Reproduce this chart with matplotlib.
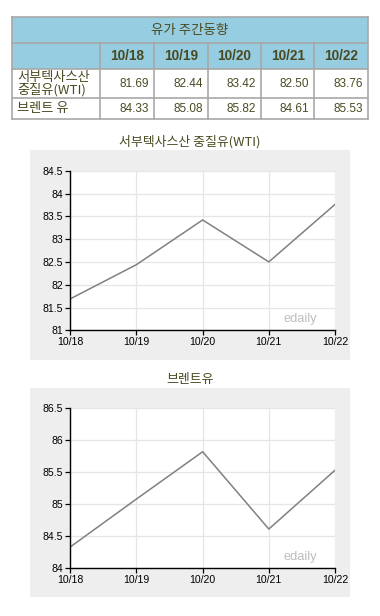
import matplotlib
matplotlib.use("Agg")
import matplotlib.pyplot as plt
from matplotlib.patches import Rectangle

plt.rcParams['font.family'] = ['Noto Sans CJK KR', 'DejaVu Sans']

dates = ["10/18", "10/19", "10/20", "10/21", "10/22"]
wti = [81.69, 82.44, 83.42, 82.50, 83.76]
brent = [84.33, 85.08, 85.82, 84.61, 85.53]
table_title = "유가 주간동향"
row_labels = ["서부텍사스산\n중질유(WTI)", "브렌트 유"]
chart_titles = ["서부텍사스산 중질유(WTI)", "브렌트유"]
wti_ticks = [81, 81.5, 82, 82.5, 83, 83.5, 84, 84.5]
brent_ticks = [84, 84.5, 85, 85.5, 86, 86.5]

W, H = 380, 616
fig = plt.figure(figsize=(W / 100, H / 100), dpi=100)
bg = fig.add_axes([0, 0, 1, 1])
bg.set_xlim(0, W)
bg.set_ylim(H, 0)
bg.axis('off')

text_col = "#4a4a22"
blue = "#96cde0"
border = "#a8a8a8"

# ---- table ----
cx = [12.3, 100.3, 154.3, 207.7, 261.0, 314.3, 367.7]
ry = [17.3, 42.7, 69.0, 98.3, 119.0]
bg.add_patch(Rectangle((cx[0], ry[0]), cx[-1] - cx[0], ry[2] - ry[0],
                       facecolor=blue, edgecolor='none'))
for y in ry:
    bg.plot([cx[0], cx[-1]], [y, y], color=border, lw=1.2)
bg.plot([cx[0], cx[0]], [ry[0], ry[-1]], color=border, lw=1.2)
bg.plot([cx[-1], cx[-1]], [ry[0], ry[-1]], color=border, lw=1.2)
for x in cx[1:-1]:
    bg.plot([x, x], [ry[1], ry[-1]], color=border, lw=1.2)

bg.text((cx[0] + cx[-1]) / 2, (ry[0] + ry[1]) / 2, table_title, ha='center', va='center',
        fontsize=9.7, color=text_col)
for i, d in enumerate(dates):
    bg.text((cx[i + 1] + cx[i + 2]) / 2, (ry[1] + ry[2]) / 2 + 0.5, d, ha='center', va='center',
            fontsize=9.8, fontweight='bold', color=text_col, family=['Liberation Sans'])
for r, (lab, vals) in enumerate(zip(row_labels, [wti, brent])):
    yc = (ry[r + 2] + ry[r + 3]) / 2
    bg.text(cx[0] + 5, yc, lab, ha='left', va='center', fontsize=9.5, color=text_col,
            linespacing=0.9)
    for i, v in enumerate(vals):
        bg.text(cx[i + 2] - 5, yc, f"{v:.2f}", ha='right', va='center', fontsize=8.5,
                color=text_col, family=['Liberation Sans'])

# ---- charts ----
charts = [
    dict(title=chart_titles[0], vals=wti, ticks=wti_ticks, title_y=142,
         panel=(30, 150, 350, 360), ax=(70.3, 170.7, 335, 330.3)),
    dict(title=chart_titles[1], vals=brent, ticks=brent_ticks, title_y=380,
         panel=(30, 388.3, 350, 597.3), ax=(70.3, 408.3, 335, 568)),
]
for c in charts:
    px0, py0, px1, py1 = c['panel']
    bg.add_patch(Rectangle((px0, py0), px1 - px0, py1 - py0, facecolor="#eeeeee", edgecolor='none'))
    bg.text(190, c['title_y'], c['title'], ha='center', va='center', fontsize=9.3, color=text_col)
    ax0, ay0, ax1_, ay1 = c['ax']
    ax = fig.add_axes([ax0 / W, 1 - ay1 / H, (ax1_ - ax0) / W, (ay1 - ay0) / H])
    ax.set_facecolor('white')
    xs = list(range(len(dates)))
    ax.plot(xs, c['vals'], color="#808080", lw=1.1)
    ax.set_xlim(0, len(dates) - 1)
    ax.set_ylim(c['ticks'][0], c['ticks'][-1])
    ax.set_xticks(xs)
    ax.set_xticklabels(dates)
    ax.set_yticks(c['ticks'])
    ax.set_yticklabels([f"{t:g}" for t in c['ticks']])
    ax.grid(True, color="#e6e6e6", lw=0.9)
    ax.set_axisbelow(True)
    for s in ['top', 'right']:
        ax.spines[s].set_visible(False)
    for s in ['left', 'bottom']:
        ax.spines[s].set_color('black')
        ax.spines[s].set_linewidth(1.0)
    ax.tick_params(axis='both', length=3.5, width=0.9, color='black', labelsize=7.6,
                   labelcolor='black', pad=1.5)
    for lab in ax.get_xticklabels() + ax.get_yticklabels():
        lab.set_family(['Liberation Sans'])
    ax.text(0.868, 0.071, "edaily", transform=ax.transAxes, ha='center', va='center',
            fontsize=9.3, color="#bdbdbd", family=['Liberation Sans'])

fig.savefig("out.png", dpi=100)
